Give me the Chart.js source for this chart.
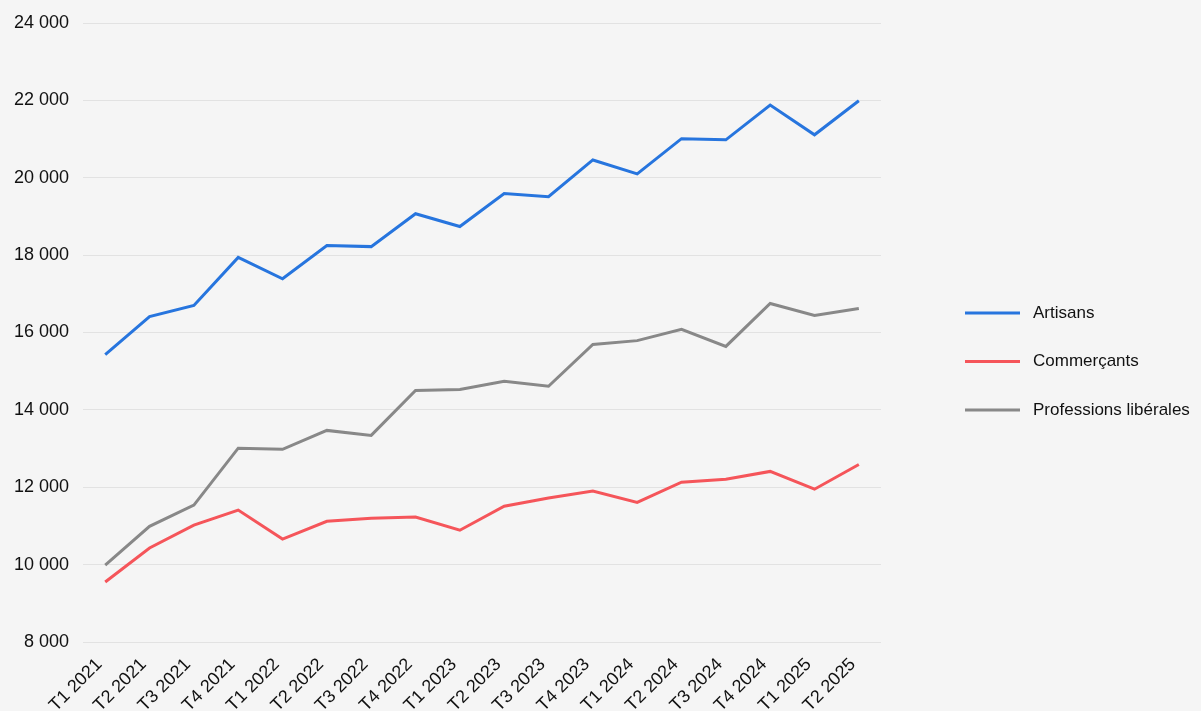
<!DOCTYPE html>
<html lang="fr">
<head>
    <meta charset="UTF-8">
    <title>Effectifs par trimestre</title>
    <script src="https://cdn.jsdelivr.net/npm/chart.js"></script>
    <style>
        html, body { margin: 0; padding: 0; background: #f5f5f5; }
        #wrap { width: 1201px; height: 711px; }
    </style>
</head>
<body>
    <div id="wrap"><canvas id="chart"></canvas></div>

    <script>
        const trimestres = ['T1 2021', 'T2 2021', 'T3 2021', 'T4 2021', 'T1 2022', 'T2 2022', 'T3 2022', 'T4 2022',
            'T1 2023', 'T2 2023', 'T3 2023', 'T4 2023', 'T1 2024', 'T2 2024', 'T3 2024', 'T4 2024', 'T1 2025', 'T2 2025'];
        const artisans = [15430, 16410, 16700, 17940, 17390, 18250, 18220, 19070, 18740,
            19590, 19510, 20460, 20100, 21010, 20980, 21880, 21110, 21990];
        const commercants = [9550, 10430, 11020, 11410, 10660, 11120, 11200, 11230, 10890,
            11510, 11720, 11900, 11610, 12130, 12210, 12410, 11950, 12590];
        const liberales = [9990, 10990, 11540, 13010, 12980, 13470, 13340, 14500, 14530,
            14740, 14610, 15690, 15790, 16080, 15640, 16750, 16440, 16620];

        const fmt = v => String(v).replace(/\B(?=(\d{3})+(?!\d))/g, ' ');

        Chart.defaults.font.family = '"Liberation Sans", Arial, sans-serif';
        Chart.defaults.font.size = 18;
        Chart.defaults.color = '#111';

        const serie = (label, data, color) => ({
            label: label,
            data: data,
            borderColor: color,
            backgroundColor: color,
            borderWidth: 3,
            pointRadius: 0,
            tension: 0,
            fill: false
        });

        // legend on the right, drawn by hand: the built-in one can't get this wide
        const legendeDroite = {
            id: 'legendeDroite',
            afterDraw(chart) {
                const ctx = chart.ctx;
                const x0 = chart.chartArea.right + 84;
                const yc = chart.height / 2 + 6;
                chart.data.datasets.forEach((ds, i) => {
                    const y = yc + (i - 1) * 48.5;
                    ctx.save();
                    ctx.strokeStyle = ds.borderColor;
                    ctx.lineWidth = 3;
                    ctx.beginPath();
                    ctx.moveTo(x0, y);
                    ctx.lineTo(x0 + 55, y);
                    ctx.stroke();
                    ctx.fillStyle = '#111';
                    ctx.font = '17px "Liberation Sans", Arial, sans-serif';
                    ctx.textBaseline = 'middle';
                    ctx.fillText(ds.label, x0 + 68, y);
                    ctx.restore();
                });
            }
        };

        new Chart(document.getElementById('chart'), {
            type: 'line',
            data: {
                labels: trimestres,
                datasets: [
                    serie('Artisans', artisans, '#2775de'),
                    serie('Commerçants', commercants, '#f5555a'),
                    serie('Professions libérales', liberales, '#888888')
                ]
            },
            options: {
                responsive: true,
                maintainAspectRatio: false,
                animation: false,
                layout: { padding: { left: 0, top: 8, right: 320, bottom: -9 } },
                plugins: {
                    legend: { display: false },
                    tooltip: { enabled: false }
                },
                scales: {
                    x: {
                        offset: true,
                        grid: { display: false },
                        border: { display: false },
                        ticks: { maxRotation: 45, minRotation: 45, padding: 4, labelOffset: -6 }
                    },
                    y: {
                        min: 8000,
                        max: 24000,
                        grid: { color: '#e2e2e2', drawTicks: false },
                        border: { display: false },
                        ticks: { stepSize: 2000, padding: 14, font: { lineHeight: 1 }, callback: v => fmt(v) }
                    }
                }
            },
            plugins: [legendeDroite]
        });
    </script>
</body>
</html>
